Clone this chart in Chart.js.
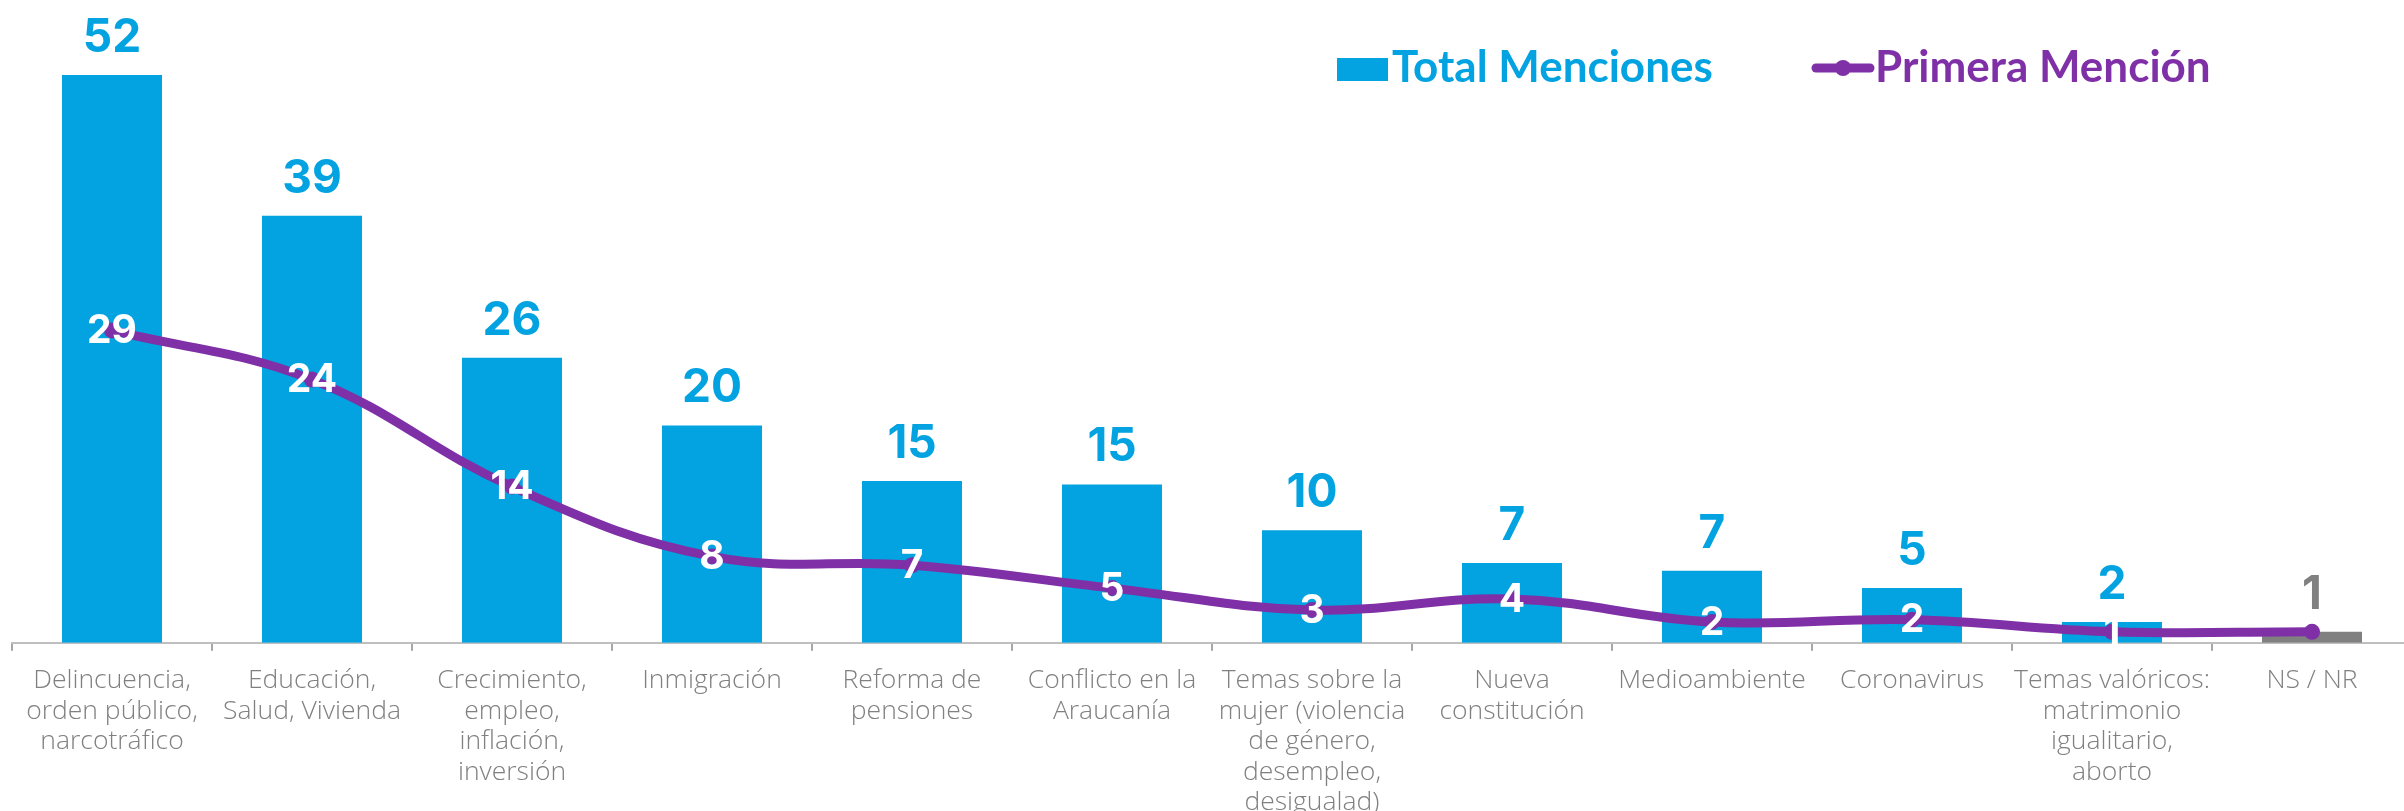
<!DOCTYPE html>
<html>
<head>
<meta charset="utf-8">
<script src="https://cdn.jsdelivr.net/npm/chart.js@4"></script>
<style>
  html, body { margin: 0; padding: 0; background: #fff; overflow: hidden; }
  canvas { display: block; }
</style>
</head>
<body>
<canvas id="myChart" width="2420" height="811"></canvas>
<script>
const categories = [
    ['Delincuencia,', 'orden público,', 'narcotráfico'],
    ['Educación,', 'Salud, Vivienda'],
    ['Crecimiento,', 'empleo,', 'inflación,', 'inversión'],
    ['Inmigración'],
    ['Reforma de', 'pensiones'],
    ['Conflicto en la', 'Araucanía'],
    ['Temas sobre la', 'mujer (violencia', 'de género,', 'desempleo,', 'desigualad)'],
    ['Nueva', 'constitución'],
    ['Medioambiente'],
    ['Coronavirus'],
    ['Temas valóricos:', 'matrimonio', 'igualitario,', 'aborto'],
    ['NS / NR']
];
const totalMenciones = [52, 39.1, 26.1, 19.9, 14.8, 14.5, 10.3, 7.3, 6.6, 5, 1.9, 1];
const primeraMencion = [28.6, 24.1, 14.3, 7.9, 7.1, 5, 3, 4, 1.9, 2.1, 1, 1];
const seriesNames = ['Total Menciones', 'Primera Mención'];

let blueBar = '#02A3E0';
let grayBar = '#808080';
let purpleLine = '#7F30A6';
let numFont = 'Inter, "Open Sans", sans-serif';

// numbers above the bars and on the line points
const valueLabels = {
    id: 'valueLabels',
    afterDatasetsDraw(chart) {
        const ctx = chart.ctx;
        ctx.save();
        ctx.textAlign = 'center';

        const bars = chart.getDatasetMeta(1).data;
        ctx.font = 'bold 46px ' + numFont;
        ctx.textBaseline = 'alphabetic';
        bars.forEach((bar, i) => {
            ctx.fillStyle = i === bars.length - 1 ? grayBar : blueBar;
            ctx.fillText(Math.round(totalMenciones[i]), bar.x, bar.y - 23);
        });

        // the last point (NS / NR) carries no label in the original
        const points = chart.getDatasetMeta(0).data;
        ctx.font = 'bold 39px ' + numFont;
        ctx.textBaseline = 'middle';
        ctx.fillStyle = '#ffffff';
        points.forEach((pt, i) => {
            if (i === points.length - 1) return;
            ctx.fillText(Math.round(primeraMencion[i]), pt.x, pt.y + 1);
        });
        ctx.restore();
    },
    afterDraw(chart) {
        const ctx = chart.ctx;
        ctx.save();
        ctx.font = 'bold 44px Lato, "Open Sans", sans-serif';
        ctx.textBaseline = 'alphabetic';
        ctx.textAlign = 'left';

        // bar series
        ctx.fillStyle = blueBar;
        ctx.fillRect(1337, 58, 51, 23);
        ctx.fillText(seriesNames[0], 1392, 82);

        // line series
        ctx.strokeStyle = purpleLine;
        ctx.lineWidth = 9;
        ctx.lineCap = 'round';
        ctx.beginPath();
        ctx.moveTo(1816, 68);
        ctx.lineTo(1870, 68);
        ctx.stroke();
        ctx.fillStyle = purpleLine;
        ctx.beginPath();
        ctx.arc(1843, 68, 8, 0, Math.PI * 2);
        ctx.fill();
        ctx.fillText(seriesNames[1], 1875, 82);
        ctx.restore();
    }
};

const data = {
    labels: categories,
    datasets: [{
        type: 'line',
        label: seriesNames[1],
        data: primeraMencion,
        borderColor: purpleLine,
        backgroundColor: purpleLine,
        borderWidth: 9,
        tension: 0.4,
        pointRadius: 8,
        pointHoverRadius: 8,
        pointBorderWidth: 0,
        order: 0,
    }, {
        type: 'bar',
        label: seriesNames[0],
        data: totalMenciones,
        backgroundColor: (c) => c.dataIndex === categories.length - 1 ? grayBar : blueBar,
        categoryPercentage: 1,
        barPercentage: 0.5,
        order: 1,
    }]
};

const config = {
    data: data,
    options: {
        responsive: false,
        animation: false,
        layout: {
            padding: { top: 9.5, left: 12, right: 0, bottom: 0 }
        },
        scales: {
            x: {
                afterFit: (scale) => { scale.height = 168.3; },
                grid: {
                    display: true,
                    drawOnChartArea: false,
                    drawTicks: true,
                    tickLength: 8,
                    color: '#a6a6a6',
                    lineWidth: 2,
                    offset: true,
                },
                border: {
                    display: true,
                    color: '#bfbfbf',
                    width: 2,
                },
                ticks: {
                    color: '#808080',
                    padding: 15,
                    maxRotation: 0,
                    autoSkip: false,
                    font: {
                        family: '"Open Sans", sans-serif',
                        size: 26.5,
                        weight: '300',
                        lineHeight: 1.15,
                    },
                },
            },
            y: {
                display: false,
                min: 0,
                max: 58,
            },
        },
        plugins: {
            legend: { display: false },
            tooltip: { enabled: false },
        },
    },
    plugins: [valueLabels]
};

const myChart = new Chart(document.getElementById('myChart'), config);
</script>
</body>
</html>
